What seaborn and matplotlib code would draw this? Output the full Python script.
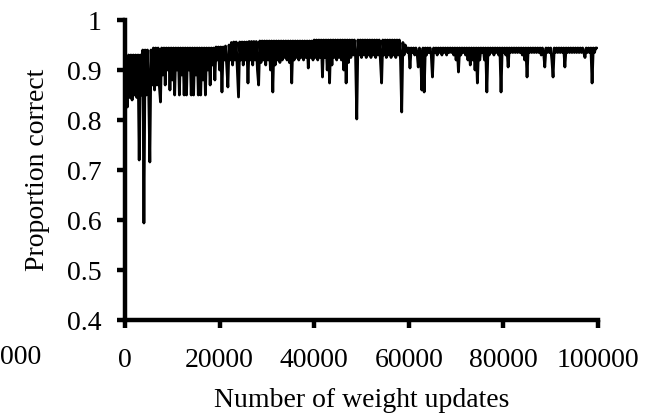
import matplotlib
matplotlib.use("Agg")
import matplotlib.pyplot as plt
import seaborn as sns
import pandas as pd

# proportion correct recorded every 250 weight updates
updates = list(range(0, 100000, 250))
proportion = [
    0.92, 0.85, 0.826, 0.93, 0.845, 0.93, 0.84, 0.93, 0.85, 0.93,
    0.845, 0.93, 0.72, 0.93, 0.85, 0.94, 0.594, 0.94, 0.85, 0.94,
    0.86, 0.716, 0.94, 0.87, 0.944, 0.86, 0.944, 0.87, 0.944, 0.87,
    0.836, 0.944, 0.89, 0.944, 0.87, 0.944, 0.90, 0.944, 0.86, 0.944,
    0.88, 0.944, 0.85, 0.944, 0.90, 0.944, 0.85, 0.944, 0.89, 0.944,
    0.85, 0.944, 0.85, 0.944, 0.90, 0.944, 0.85, 0.944, 0.85, 0.944,
    0.89, 0.944, 0.85, 0.944, 0.85, 0.944, 0.88, 0.944, 0.85, 0.944,
    0.90, 0.944, 0.87, 0.944, 0.91, 0.944, 0.88, 0.946, 0.92, 0.946,
    0.90, 0.946, 0.856, 0.946, 0.92, 0.948, 0.91, 0.866, 0.95, 0.92,
    0.955, 0.91, 0.956, 0.92, 0.956, 0.90, 0.846, 0.956, 0.92, 0.956,
    0.91, 0.956, 0.92, 0.956, 0.874, 0.957, 0.92, 0.957, 0.91, 0.957,
    0.92, 0.957, 0.90, 0.87, 0.958, 0.915, 0.958, 0.92, 0.958, 0.91,
    0.958, 0.92, 0.958, 0.90, 0.958, 0.856, 0.958, 0.91, 0.958, 0.92,
    0.958, 0.915, 0.958, 0.92, 0.958, 0.925, 0.958, 0.92, 0.958, 0.915,
    0.958, 0.874, 0.958, 0.92, 0.958, 0.925, 0.958, 0.92, 0.958, 0.925,
    0.958, 0.92, 0.958, 0.925, 0.958, 0.904, 0.958, 0.925, 0.958, 0.92,
    0.96, 0.925, 0.96, 0.92, 0.96, 0.925, 0.96, 0.886, 0.96, 0.925,
    0.96, 0.90, 0.96, 0.874, 0.96, 0.91, 0.96, 0.925, 0.96, 0.92,
    0.96, 0.925, 0.96, 0.92, 0.96, 0.90, 0.96, 0.874, 0.96, 0.915,
    0.96, 0.925, 0.96, 0.93, 0.96, 0.925, 0.802, 0.96, 0.93, 0.96,
    0.925, 0.96, 0.93, 0.96, 0.925, 0.96, 0.93, 0.96, 0.925, 0.96,
    0.93, 0.96, 0.925, 0.96, 0.93, 0.96, 0.92, 0.874, 0.96, 0.93,
    0.96, 0.925, 0.96, 0.93, 0.96, 0.925, 0.96, 0.93, 0.96, 0.925,
    0.96, 0.93, 0.96, 0.92, 0.816, 0.955, 0.93, 0.95, 0.944, 0.935,
    0.944, 0.904, 0.944, 0.935, 0.944, 0.93, 0.944, 0.935, 0.906, 0.944,
    0.93, 0.86, 0.944, 0.856, 0.944, 0.93, 0.944, 0.935, 0.944, 0.93,
    0.886, 0.944, 0.935, 0.944, 0.93, 0.944, 0.935, 0.944, 0.93, 0.944,
    0.935, 0.944, 0.93, 0.944, 0.935, 0.944, 0.935, 0.944, 0.93, 0.944,
    0.92, 0.944, 0.896, 0.944, 0.93, 0.944, 0.935, 0.944, 0.93, 0.944,
    0.92, 0.944, 0.91, 0.944, 0.92, 0.944, 0.90, 0.944, 0.874, 0.944,
    0.92, 0.944, 0.935, 0.944, 0.92, 0.944, 0.856, 0.944, 0.93, 0.944,
    0.935, 0.944, 0.93, 0.944, 0.935, 0.944, 0.93, 0.944, 0.856, 0.944,
    0.935, 0.944, 0.93, 0.944, 0.906, 0.944, 0.935, 0.944, 0.935, 0.944,
    0.935, 0.944, 0.935, 0.944, 0.935, 0.944, 0.93, 0.944, 0.92, 0.944,
    0.886, 0.944, 0.935, 0.944, 0.935, 0.944, 0.935, 0.944, 0.935, 0.944,
    0.935, 0.944, 0.93, 0.944, 0.935, 0.906, 0.944, 0.935, 0.944, 0.935,
    0.944, 0.92, 0.886, 0.944, 0.935, 0.944, 0.935, 0.944, 0.935, 0.944,
    0.935, 0.944, 0.906, 0.944, 0.935, 0.944, 0.935, 0.944, 0.935, 0.944,
    0.935, 0.944, 0.935, 0.944, 0.935, 0.944, 0.935, 0.944, 0.935, 0.925,
    0.944, 0.935, 0.944, 0.935, 0.944, 0.874, 0.944, 0.935, 0.944, 0.944,
]
x_ticks = [0, 20000, 40000, 60000, 80000, 100000]
x_tick_labels = ["0", "20000", "40000", "60000", "80000", "100000"]
y_ticks = [0.4, 0.5, 0.6, 0.7, 0.8, 0.9, 1.0]
y_tick_labels = ["0.4", "0.5", "0.6", "0.7", "0.8", "0.9", "1"]

df = pd.DataFrame({"updates": updates, "proportion": proportion})

sns.set_style("ticks")
plt.rcParams["font.family"] = ["Liberation Serif", "DejaVu Serif"]

fig = plt.figure(figsize=(6.53, 4.16), dpi=100)
ax = fig.add_axes([125 / 653, 96 / 416, 473 / 653, 300 / 416])

sns.lineplot(data=df, x="updates", y="proportion", ax=ax, color="black",
             linewidth=2.0, estimator=None, sort=False)

ax.set_xlim(0, 100000)
ax.set_ylim(0.4, 1.0)
ax.set_xticks(x_ticks)
ax.set_xticklabels(x_tick_labels)
ax.set_yticks(y_ticks)
ax.set_yticklabels(y_tick_labels)

for side in ("top", "right"):
    ax.spines[side].set_visible(False)
for side in ("left", "bottom"):
    ax.spines[side].set_linewidth(3.2)
    ax.spines[side].set_color("black")
    ax.spines[side].set_capstyle("projecting")

ax.tick_params(axis="both", direction="out", length=6, width=3.2,
               colors="black", labelsize=20)
ax.tick_params(axis="x", pad=14)
ax.tick_params(axis="y", pad=11)

ax.set_xlabel("Number of weight updates", fontsize=20, color="black", labelpad=11)
ax.set_ylabel("Proportion correct", fontsize=20, color="black", labelpad=12)

# partial tick label from the neighbouring panel at the left edge
fig.text(0.0, 1 - 358 / 416, "000", fontsize=20, color="black",
         ha="left", va="center")

fig.savefig("out.png", dpi=100)
